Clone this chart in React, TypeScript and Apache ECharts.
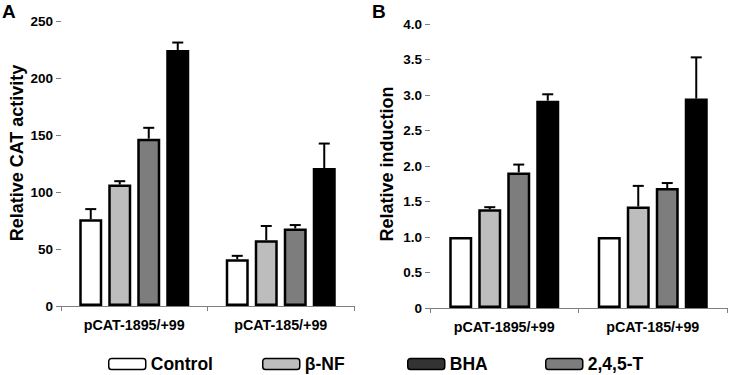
import React, { useEffect, useRef } from "react";
import * as echarts from "echarts";

const categories = ["pCAT-1895/+99", "pCAT-185/+99"];
const seriesNames = ["Control", "β-NF", "2,4,5-T", "BHA"];
const legendOrder = ["Control", "β-NF", "BHA", "2,4,5-T"];
const seriesColors = ["#ffffff", "#bdbdbd", "#7d7d7d", "#000000"];
const legendColors: Record<string, string> = {
  Control: "#ffffff",
  "β-NF": "#bdbdbd",
  BHA: "#333333",
  "2,4,5-T": "#7d7d7d",
};
const axisTitles = ["Relative CAT activity", "Relative induction"];

// Panel A: Relative CAT activity
const controlA = [76, 41];
const controlAErr = [9, 3];
const bnfA = [106.5, 57.7];
const bnfAErr = [3, 12.5];
const tA = [146.8, 68];
const tAErr = [9.5, 3];
const bhaA = [224.6, 121];
const bhaAErr = [6.5, 21.5];

// Panel B: Relative induction
const controlB = [1.0, 1.0];
const controlBErr = [0, 0];
const bnfB = [1.39, 1.43];
const bnfBErr = [0.03, 0.29];
const tB = [1.91, 1.69];
const tBErr = [0.11, 0.07];
const bhaB = [2.92, 2.95];
const bhaBErr = [0.09, 0.58];

const yTicksA = { min: 0, max: 250, interval: 50 };
const yTicksB = { min: 0, max: 4, interval: 0.5 };

const FONT = "Liberation Sans, Arial, sans-serif";
const BAR_W = 23;
const BAR_STEP = 29;

export default function App() {
  const ref = useRef<HTMLDivElement>(null);
  useEffect(() => {
    if (!ref.current) return;
    const chart = echarts.init(ref.current, null, { renderer: "svg" });

    const panels = [
      { vals: [controlA, bnfA, tA, bhaA], errs: [controlAErr, bnfAErr, tAErr, bhaAErr] },
      { vals: [controlB, bnfB, tB, bhaB], errs: [controlBErr, bnfBErr, tBErr, bhaBErr] },
    ];

    const series: any[] = [];
    panels.forEach((p, gi) => {
      p.vals.forEach((v, si) => {
        series.push({
          type: "bar",
          name: seriesNames[si],
          xAxisIndex: gi,
          yAxisIndex: gi,
          data: v,
          barWidth: BAR_W,
          barGap: ((BAR_STEP - BAR_W) / BAR_W) * 100 + "%",
          itemStyle: { color: seriesColors[si], borderColor: "#000", borderWidth: 2.5 },
          z: 2,
        });
      });
      p.vals.forEach((v, si) => {
        const errData = v.map((val, ci) => [ci, val, val + p.errs[si][ci]]);
        series.push({
          type: "custom",
          name: seriesNames[si] + "-err" + gi,
          xAxisIndex: gi,
          yAxisIndex: gi,
          data: errData,
          z: 3,
          renderItem: (params: any, api: any) => {
            const ci = api.value(0);
            const lo = api.coord([ci, api.value(1)]);
            const hi = api.coord([ci, api.value(2)]);
            const x = lo[0] + (si - 1.5) * BAR_STEP;
            if (Math.abs(hi[1] - lo[1]) < 0.5) return null;
            return {
              type: "group",
              children: [
                { type: "line", shape: { x1: x, y1: lo[1], x2: x, y2: hi[1] }, style: { stroke: "#000", lineWidth: 2 } },
                { type: "line", shape: { x1: x - 5.5, y1: hi[1], x2: x + 5.5, y2: hi[1] }, style: { stroke: "#000", lineWidth: 2 } },
              ],
            };
          },
        });
      });
    });

    const axisCommon = {
      axisLine: { lineStyle: { color: "#808080", width: 1 } },
      axisTick: { show: true, length: 5, lineStyle: { color: "#808080" } },
      splitLine: { show: false },
    };

    const legendLefts = [108, 262, 407, 545];
    const legends = legendOrder.map((name, i) => ({
      left: legendLefts[i],
      top: 355,
      padding: 0,
      orient: "horizontal",
      itemWidth: 37,
      itemHeight: 11,
      itemGap: 5,
      data: [{ name, itemStyle: { color: legendColors[name], borderColor: "#000", borderWidth: 1.5 } }],
      textStyle: { fontFamily: FONT, fontWeight: "bold", fontSize: 17.5, color: "#000" },
      selectedMode: false,
    }));

    const labelStyle = { fontFamily: FONT, fontWeight: "bold", fontSize: 13.5, color: "#000", margin: 8 };

    chart.setOption({
      animation: false,
      backgroundColor: "#fff",
      grid: [
        { left: 61, top: 21, width: 293, height: 285 },
        { left: 430, top: 24, width: 297, height: 284 },
      ],
      legend: legends,
      xAxis: [0, 1].map((g) => ({
        type: "category",
        gridIndex: g,
        data: categories,
        ...axisCommon,
        axisLabel: { fontFamily: FONT, fontWeight: "bold", fontSize: 14.3, color: "#000", margin: 12 },
      })),
      yAxis: [
        { type: "value", gridIndex: 0, ...yTicksA, ...axisCommon, axisLabel: labelStyle },
        {
          type: "value",
          gridIndex: 1,
          ...yTicksB,
          ...axisCommon,
          axisLabel: { ...labelStyle, formatter: (v: number) => (v === 0 ? "0" : v.toFixed(1)) },
        },
      ],
      graphic: [
        { type: "text", left: 2, top: 2, style: { text: "A", fontFamily: FONT, fontWeight: "bold", fontSize: 19, fill: "#000" } },
        { type: "text", left: 372, top: 2, style: { text: "B", fontFamily: FONT, fontWeight: "bold", fontSize: 19, fill: "#000" } },
        {
          type: "text",
          x: 17,
          y: 153,
          rotation: Math.PI / 2,
          style: { text: axisTitles[0], fontFamily: FONT, fontWeight: "bold", fontSize: 18, fill: "#000", align: "center", verticalAlign: "middle" },
        },
        {
          type: "text",
          x: 387,
          y: 164,
          rotation: Math.PI / 2,
          style: { text: axisTitles[1], fontFamily: FONT, fontWeight: "bold", fontSize: 18, fill: "#000", align: "center", verticalAlign: "middle" },
        },
      ],
      series,
    });
    return () => chart.dispose();
  }, []);
  return <div ref={ref} style={{ width: 729, height: 375, position: "absolute", left: 0, top: 0 }} />;
}
